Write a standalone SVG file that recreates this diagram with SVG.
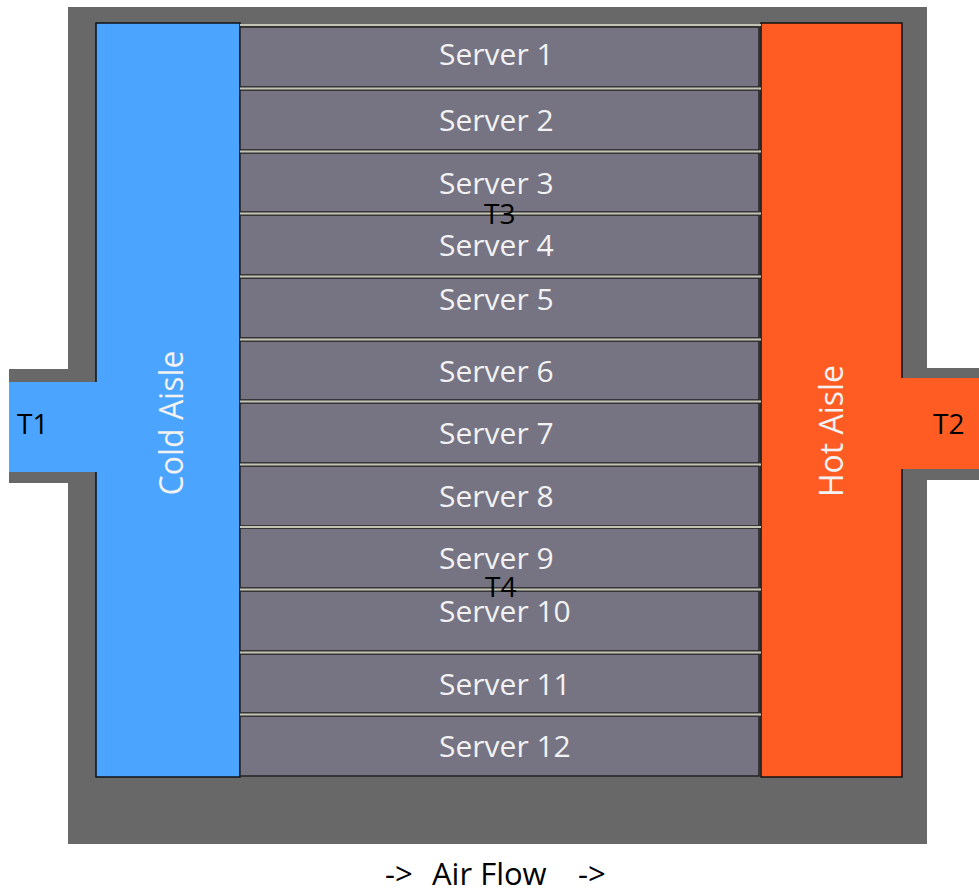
<svg xmlns="http://www.w3.org/2000/svg" width="979" height="893" viewBox="0 0 979 893">
<style>
.srv{fill:#767482;stroke:#222;stroke-width:1.5}
.sep{stroke:#c4c4b4;stroke-width:2}
.st{font-family:"Open Sans","Liberation Sans",sans-serif;font-size:30px;fill:#f2f2f2}
.lbl{font-family:"Open Sans","Liberation Sans",sans-serif;font-size:28px;fill:#000}
.aisle{font-family:"Open Sans","Liberation Sans",sans-serif;font-size:32px;fill:#f2f2f2}
</style>
<rect width="979" height="893" fill="#fff"/>
<g id="enclosure">
<rect x="68" y="7" width="859" height="837" fill="#686868"/>
<rect x="9" y="369" width="87" height="114" fill="#686868"/>
<rect x="902" y="368" width="77" height="112" fill="#686868"/>
</g>
<g id="cold-aisle">
<rect x="96" y="23" width="144" height="754" fill="#4ba4fe" stroke="#111" stroke-width="1.5"/>
<rect x="9" y="382" width="88" height="90" fill="#4ba4fe"/>
<text class="aisle" transform="translate(183,423) rotate(-90)" text-anchor="middle">Cold Aisle</text>
<text class="lbl" x="17" y="434">T1</text>
</g>
<g id="hot-aisle">
<rect x="761" y="23" width="141" height="754" fill="#ff5c23" stroke="#111" stroke-width="1.5"/>
<rect x="901" y="378" width="78" height="91" fill="#ff5c23"/>
<text class="aisle" transform="translate(843,431) rotate(-90)" text-anchor="middle">Hot Aisle</text>
<text class="lbl" x="933" y="434">T2</text>
</g>
<g id="servers">
<rect class="srv" x="240" y="27" width="519" height="60"/>
<rect class="srv" x="240" y="90" width="519" height="60"/>
<rect class="srv" x="240" y="153" width="519" height="59"/>
<rect class="srv" x="240" y="215" width="519" height="60"/>
<rect class="srv" x="240" y="278" width="519" height="60"/>
<rect class="srv" x="240" y="341" width="519" height="59"/>
<rect class="srv" x="240" y="403" width="519" height="60"/>
<rect class="srv" x="240" y="466" width="519" height="60"/>
<rect class="srv" x="240" y="528" width="519" height="60"/>
<rect class="srv" x="240" y="591" width="519" height="60"/>
<rect class="srv" x="240" y="654" width="519" height="59"/>
<rect class="srv" x="240" y="716" width="519" height="60"/>
</g>
<g id="separators">
<line class="sep" x1="240" y1="25" x2="761" y2="25"/>
<line class="sep" x1="240" y1="88.5" x2="761" y2="88.5"/>
<line class="sep" x1="240" y1="151.5" x2="761" y2="151.5"/>
<line class="sep" x1="240" y1="213.5" x2="761" y2="213.5"/>
<line class="sep" x1="240" y1="276.5" x2="761" y2="276.5"/>
<line class="sep" x1="240" y1="339.5" x2="761" y2="339.5"/>
<line class="sep" x1="240" y1="401.5" x2="761" y2="401.5"/>
<line class="sep" x1="240" y1="464.5" x2="761" y2="464.5"/>
<line class="sep" x1="240" y1="527" x2="761" y2="527"/>
<line class="sep" x1="240" y1="589.5" x2="761" y2="589.5"/>
<line class="sep" x1="240" y1="652.5" x2="761" y2="652.5"/>
<line class="sep" x1="240" y1="714.5" x2="761" y2="714.5"/>
</g>
<g id="server-labels">
<text class="st" x="439" y="65">Server 1</text>
<text class="st" x="439" y="131">Server 2</text>
<text class="st" x="439" y="194">Server 3</text>
<text class="st" x="439" y="256">Server 4</text>
<text class="st" x="439" y="310">Server 5</text>
<text class="st" x="439" y="382">Server 6</text>
<text class="st" x="439" y="444">Server 7</text>
<text class="st" x="439" y="507">Server 8</text>
<text class="st" x="439" y="569">Server 9</text>
<text class="st" x="439" y="622">Server 10</text>
<text class="st" x="439" y="695">Server 11</text>
<text class="st" x="439" y="757">Server 12</text>
</g>
<g id="sensors">
<text class="lbl" x="484" y="224">T3</text>
<text class="lbl" x="485" y="597">T4</text>
</g>
<text class="lbl" y="885" style="font-size:31px"><tspan x="385">-&gt;</tspan><tspan x="432">Air Flow</tspan><tspan x="578">-&gt;</tspan></text>
</svg>
